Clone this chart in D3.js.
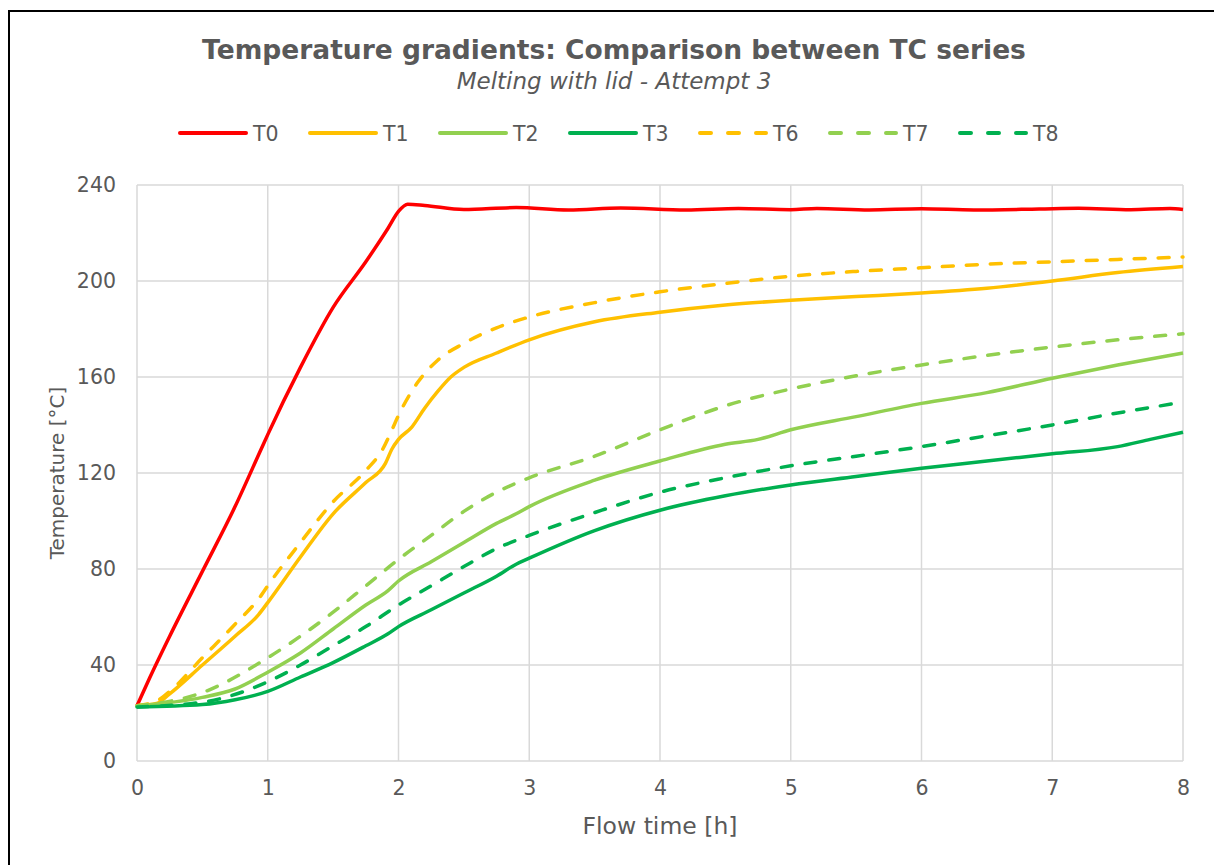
<!DOCTYPE html>
<html>
<head>
<meta charset="utf-8">
<script src="https://cdn.jsdelivr.net/npm/d3@7"></script>
<style>
  body { margin: 0; background: #fff; }
  svg { display: block; font-family: "DejaVu Sans", Verdana, sans-serif; }
</style>
</head>
<body>
<div id="chart"></div>
<script>
// series values: [hours, °C]
const T0 = [[0,23],[0.1,35],[0.25,52],[0.5,79],[0.75,106],[0.95,130],[1.0,136],[1.25,164],[1.5,189],[1.75,208],[1.92,222],[2.0,229],[2.07,232],[2.2,231.5],[2.5,229.8],[2.9,230.6],[3.3,229.6],[3.7,230.4],[4.2,229.6],[4.6,230.2],[5.0,229.7],[5.2,230.2],[5.6,229.6],[6.0,230.1],[6.4,229.6],[6.9,230],[7.2,230.3],[7.6,229.7],[7.9,230.2],[8.0,229.8]];
const T1 = [[0,23],[0.15,24],[0.25,28],[0.5,40],[0.75,52],[0.93,61],[1.0,66],[1.25,85],[1.5,103],[1.75,116],[1.9,124],[1.95,130],[2.0,134],[2.1,139],[2.2,147],[2.3,154],[2.4,160],[2.5,164],[2.75,170],[3.0,175.5],[3.5,183],[4.0,187],[4.5,190],[5.0,192],[5.5,193.5],[6.0,195],[6.5,197],[7.0,200],[7.5,203.5],[8.0,206]];
const T2 = [[0,23],[0.5,26.5],[0.75,30],[1.0,37],[1.25,45],[1.5,55],[1.75,65],[1.92,71],[2.0,75],[2.25,83],[2.5,91],[2.75,99],[2.9,103],[3.0,106],[3.5,117],[4.0,125],[4.5,132],[4.75,134],[5.0,138],[5.5,143.5],[6.0,149],[6.5,153.5],[7.0,159.5],[7.5,165],[8.0,170]];
const T3 = [[0,22.5],[0.5,23.5],[0.75,25.5],[1.0,29],[1.25,35],[1.5,41],[1.75,48],[1.92,53],[2.0,56],[2.25,63],[2.5,70],[2.75,77],[2.9,82],[3.0,84.5],[3.5,96],[4.0,104.5],[4.5,110.5],[5.0,115],[5.5,118.5],[6.0,122],[6.5,125],[7.0,128],[7.5,131],[7.75,134],[8.0,137]];
const T6 = [[0,23],[0.15,25],[0.25,29],[0.5,43],[0.75,57],[0.95,69],[1.0,73],[1.25,91],[1.5,108],[1.75,121],[1.88,130],[1.95,138],[2.0,144],[2.15,158],[2.3,167],[2.5,174],[2.75,180.5],[3.0,185],[3.5,191],[4.0,195.5],[4.5,199],[5.0,202],[5.5,204],[6.0,205.5],[6.5,207],[7.0,208],[7.5,209],[8.0,210]];
const T7 = [[0,23],[0.5,28.5],[1.0,43],[1.25,52],[1.5,62],[1.75,73],[2.0,84],[2.25,94],[2.5,104],[2.75,112],[3.0,118],[3.5,127],[4.0,138],[4.5,148],[5.0,155],[5.5,160.5],[6.0,165],[6.5,169],[7.0,172.5],[7.5,175.5],[8.0,178]];
const T8 = [[0,22.5],[0.5,24.5],[1.0,33],[1.25,40],[1.5,48],[1.75,56],[2.0,65],[2.25,73],[2.5,81],[2.75,88.5],[3.0,94],[3.5,103.5],[4.0,112],[4.5,118],[5.0,123],[5.5,127],[6.0,131],[6.5,135.5],[7.0,140],[7.5,145],[8.0,149.5]];

const seriesNames = ["T0", "T1", "T2", "T3", "T6", "T7", "T8"];
const seriesValues = [T0, T1, T2, T3, T6, T7, T8];
const seriesColors = ["#ff0000", "#ffc000", "#92d050", "#00b050", "#ffc000", "#92d050", "#00b050"];
const seriesDashed = [false, false, false, false, true, true, true];

const xTicks = [0, 1, 2, 3, 4, 5, 6, 7, 8];
const yTicks = [0, 40, 80, 120, 160, 200, 240];

const W = 1214, H = 865;
const margin = { top: 185, right: 31, bottom: 104, left: 137 };
const width = W - margin.left - margin.right;
const height = H - margin.top - margin.bottom;
const textColor = "#595959";
const gridColor = "#d9d9d9";

const svg = d3.select("#chart").append("svg")
    .attr("width", W)
    .attr("height", H);

// outer frame
svg.append("rect")
    .attr("x", 9).attr("y", 11)
    .attr("width", W).attr("height", H)
    .attr("fill", "none")
    .attr("stroke", "#000")
    .attr("stroke-width", 2);

svg.append("text")
    .attr("x", 614).attr("y", 59)
    .attr("text-anchor", "middle")
    .attr("font-size", 26.5).attr("font-weight", "bold")
    .attr("fill", textColor)
    .text("Temperature gradients: Comparison between TC series");

svg.append("text")
    .attr("x", 614).attr("y", 89)
    .attr("text-anchor", "middle")
    .attr("font-size", 23).attr("font-style", "italic")
    .attr("fill", textColor)
    .text("Melting with lid - Attempt 3");

const g = svg.append("g")
    .attr("transform", `translate(${margin.left},${margin.top})`);

const x = d3.scaleLinear().domain([0, 8]).range([0, width]);
const y = d3.scaleLinear().domain([0, 240]).range([height, 0]);

// grid
g.append("g")
    .selectAll("line")
    .data(yTicks)
    .join("line")
    .attr("x1", 0).attr("x2", width)
    .attr("y1", d => y(d)).attr("y2", d => y(d))
    .attr("stroke", gridColor).attr("stroke-width", 1.5);

g.append("g")
    .selectAll("line")
    .data(xTicks)
    .join("line")
    .attr("x1", d => x(d)).attr("x2", d => x(d))
    .attr("y1", 0).attr("y2", height)
    .attr("stroke", gridColor).attr("stroke-width", 1.5);

// axes (labels only)
const xAxis = g.append("g")
    .attr("transform", `translate(0,${height})`)
    .call(d3.axisBottom(x).tickValues(xTicks).tickSize(0).tickPadding(19).tickFormat(d3.format("d")));
const yAxis = g.append("g")
    .call(d3.axisLeft(y).tickValues(yTicks).tickSize(0).tickPadding(21).tickFormat(d3.format("d")));
[xAxis, yAxis].forEach(a => {
    a.select(".domain").remove();
    a.selectAll("text")
        .attr("font-size", 20.5)
        .attr("font-family", "DejaVu Sans, Verdana, sans-serif")
        .attr("fill", textColor);
});

g.append("text")
    .attr("x", width / 2).attr("y", height + 73)
    .attr("text-anchor", "middle")
    .attr("font-size", 23.5)
    .attr("fill", textColor)
    .text("Flow time [h]");

g.append("text")
    .attr("transform", `translate(-73,${height / 2}) rotate(-90)`)
    .attr("text-anchor", "middle")
    .attr("font-size", 20)
    .attr("fill", textColor)
    .text("Temperature [°C]");

// lines
const line = d3.line()
    .x(d => x(d[0]))
    .y(d => y(d[1]))
    .curve(d3.curveMonotoneX);

g.append("g")
    .selectAll("path")
    .data(seriesValues)
    .join("path")
    .attr("d", line)
    .attr("fill", "none")
    .attr("stroke", (d, i) => seriesColors[i])
    .attr("stroke-width", 3.5)
    .attr("stroke-linecap", (d, i) => seriesDashed[i] ? "round" : "butt")
    .attr("stroke-linejoin", "round")
    .attr("stroke-dasharray", (d, i) => seriesDashed[i] ? "11,13" : null);

// legend
const legend = svg.append("g")
    .attr("transform", "translate(178,133)");

const item = legend.selectAll("g")
    .data(seriesNames)
    .join("g")
    .attr("transform", (d, i) => `translate(${i * 130},0)`);

item.append("line")
    .attr("x1", 2).attr("x2", 68)
    .attr("stroke", (d, i) => seriesColors[i])
    .attr("stroke-width", 4)
    .attr("stroke-linecap", "round")
    .attr("stroke-dasharray", (d, i) => seriesDashed[i] ? "11,17" : null);

item.append("text")
    .attr("x", 75).attr("y", 8)
    .attr("font-size", 20.5)
    .attr("fill", textColor)
    .text(d => d);
</script>
</body>
</html>
